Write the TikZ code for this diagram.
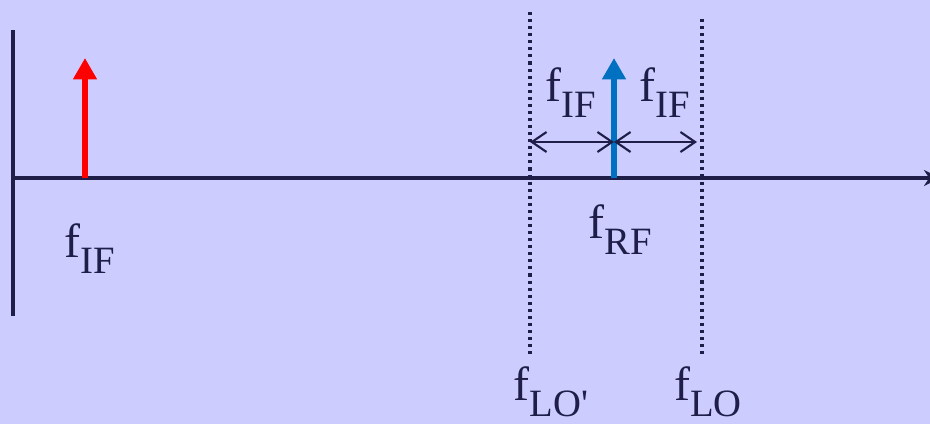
\documentclass[tikz,border=0pt]{standalone}
\usepackage{fontspec}
\setmainfont{Liberation Serif}
\definecolor{lavender}{RGB}{204,204,255}
\definecolor{darknavy}{RGB}{30,30,72}
\definecolor{tonered}{RGB}{255,0,0}
\definecolor{toneblue}{RGB}{0,112,192}
\usepackage{tikz}
\usetikzlibrary{arrows.meta, positioning}
\newcommand{\freq}[1]{f\raisebox{-12pt}{\fontsize{29}{32}\selectfont #1}}

\begin{document}
\begin{tikzpicture}[
  x=0.75pt, y=-0.75pt,
  axis/.style={line width=2.3pt, darknavy},
  tone/.style={line width=4.5pt, -{Triangle[length=16pt, width=17pt]}},
  lo/.style={line width=2.3pt, darknavy, dash pattern=on 2.3pt off 3pt},
  span/.style={line width=1.6pt, darknavy,
               {Straight Barb[length=11pt, width=15pt]}-{Straight Barb[length=11pt, width=15pt]}},
  lbl/.style={font=\fontsize{36}{40}\selectfont, text=darknavy, inner sep=0pt},
]
\fill[lavender] (0,0) rectangle (930,424);
\useasboundingbox (0,0) rectangle (930,424);

% axes
\coordinate (origin) at (13,178);
\coordinate (ytop) at (13,30);
\coordinate (ybot) at (13,316);
\coordinate (xend) at (940,178);
\draw[axis] (ybot) -- (ytop);
\draw[axis, -{Stealth[length=12pt, width=12pt]}] (origin) -- (xend);

% LO markers
\coordinate (lo2top) at (530,12);
\coordinate (lo2bot) at (530,358);
\coordinate (lotop) at (702,19);
\coordinate (lobot) at (702,358);
\draw[lo] (lo2top) -- (lo2bot);
\draw[lo] (lotop) -- (lobot);

% tones
\coordinate (ifbase) at (85,178);
\coordinate (iftip) at (85,58);
\coordinate (rfbase) at (614,178);
\coordinate (rftip) at (614,58);
\draw[tone, tonered] (ifbase) -- (iftip);
\draw[tone, toneblue] (rfbase) -- (rftip);

% IF spacing
\coordinate (spanl) at (530,142);
\coordinate (spanm) at (614,142);
\coordinate (spanr) at (697,142);
\draw[span] (spanl) -- (spanm);
\draw[span] (spanm) -- (spanr);

% labels
\node[lbl] (iflbl) at (90,249) {\freq{IF}};
\node[lbl] (ifleft) at (571,93) {\freq{IF}};
\node[lbl] (ifright) at (665,93) {\freq{IF}};
\node[lbl] (rflbl) at (620,230) {\freq{RF}};
\node[lbl] (lo2lbl) at (551,392) {\freq{LO\textquotesingle}};
\node[lbl] (lolbl) at (708,392) {\freq{LO}};
\end{tikzpicture}
\end{document}
